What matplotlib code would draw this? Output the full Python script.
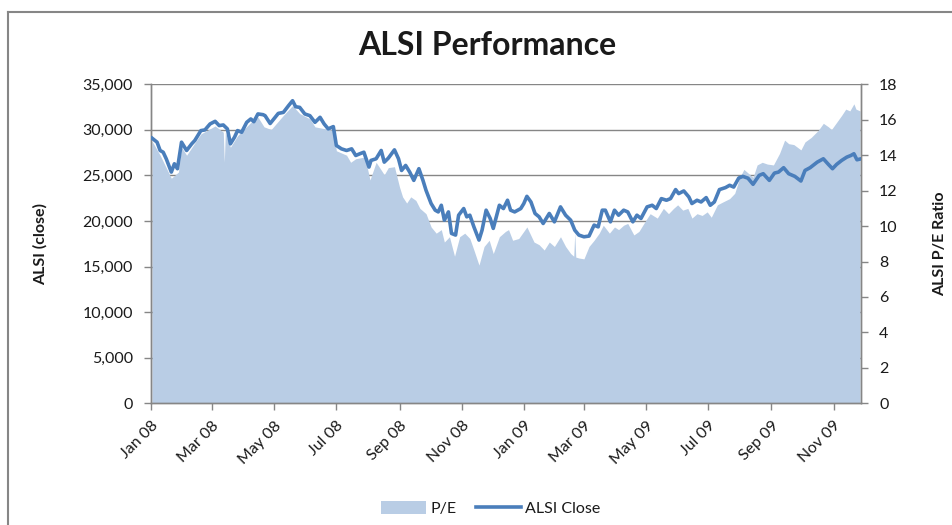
import matplotlib
matplotlib.use("Agg")
import matplotlib.pyplot as plt
import matplotlib.dates as mdates
from matplotlib.patches import Patch
from matplotlib.lines import Line2D
import pandas as pd

plt.rcParams['font.family'] = ['Lato', 'DejaVu Sans']

# ---------------- data ----------------
alsi_dates = [
    "2008-01-02", "2008-01-07", "2008-01-10", "2008-01-13", "2008-01-16", "2008-01-21", "2008-01-24", "2008-01-27",
    "2008-01-31", "2008-02-05", "2008-02-10", "2008-02-13", "2008-02-19", "2008-02-23", "2008-02-28", "2008-03-04",
    "2008-03-08", "2008-03-12", "2008-03-16", "2008-03-19", "2008-03-23", "2008-03-26", "2008-03-30", "2008-04-04",
    "2008-04-08", "2008-04-11", "2008-04-15", "2008-04-20", "2008-04-22", "2008-04-27", "2008-05-05", "2008-05-10",
    "2008-05-15", "2008-05-19", "2008-05-22", "2008-05-26", "2008-05-31", "2008-06-05", "2008-06-10", "2008-06-15",
    "2008-06-19", "2008-06-23", "2008-06-28", "2008-07-01", "2008-07-06", "2008-07-11", "2008-07-16", "2008-07-20",
    "2008-07-24", "2008-07-28", "2008-08-02", "2008-08-04", "2008-08-09", "2008-08-14", "2008-08-17", "2008-08-21",
    "2008-08-27", "2008-08-31", "2008-09-03", "2008-09-07", "2008-09-11", "2008-09-15", "2008-09-20", "2008-09-24",
    "2008-09-27", "2008-10-02", "2008-10-06", "2008-10-09", "2008-10-12", "2008-10-15", "2008-10-19", "2008-10-22",
    "2008-10-26", "2008-10-29", "2008-11-03", "2008-11-06", "2008-11-09", "2008-11-13", "2008-11-18", "2008-11-21",
    "2008-11-25", "2008-11-29", "2008-12-02", "2008-12-08", "2008-12-12", "2008-12-16", "2008-12-19", "2008-12-23",
    "2008-12-29", "2009-01-01", "2009-01-04", "2009-01-08", "2009-01-12", "2009-01-16", "2009-01-20", "2009-01-26",
    "2009-01-31", "2009-02-06", "2009-02-11", "2009-02-16", "2009-02-20", "2009-02-24", "2009-03-01", "2009-03-06",
    "2009-03-11", "2009-03-15", "2009-03-19", "2009-03-22", "2009-03-27", "2009-03-31", "2009-04-04", "2009-04-09",
    "2009-04-13", "2009-04-18", "2009-04-22", "2009-04-26", "2009-05-02", "2009-05-07", "2009-05-11", "2009-05-16",
    "2009-05-21", "2009-05-25", "2009-05-30", "2009-06-02", "2009-06-07", "2009-06-12", "2009-06-15", "2009-06-20",
    "2009-06-24", "2009-06-29", "2009-07-03", "2009-07-07", "2009-07-12", "2009-07-18", "2009-07-22", "2009-07-26",
    "2009-07-31", "2009-08-04", "2009-08-09", "2009-08-14", "2009-08-20", "2009-08-24", "2009-08-30", "2009-09-04",
    "2009-09-08", "2009-09-13", "2009-09-18", "2009-09-24", "2009-09-30", "2009-10-04", "2009-10-09", "2009-10-16",
    "2009-10-22", "2009-10-27", "2009-10-31", "2009-11-04", "2009-11-09", "2009-11-14", "2009-11-18", "2009-11-21",
    "2009-11-24", "2009-11-27",
]
alsi_close = [
    29100, 28650, 27740, 27550, 26830, 25370, 26280, 25740,
    28650, 27740, 28470, 28830, 29920, 30000, 30650, 30940,
    30470, 30540, 30110, 28470, 29190, 29920, 29740, 30830,
    31200, 30900, 31750, 31670, 31560, 30700, 31810, 31920,
    32650, 33200, 32540, 32470, 31750, 31560, 30830, 31380,
    30650, 30110, 30360, 28290, 27920, 27740, 27920, 27190,
    27380, 27550, 25920, 26650, 26830, 27740, 26460, 26900,
    27810, 26830, 25550, 26100, 25370, 24460, 25740, 24460,
    23370, 21920, 21190, 21000, 21730, 20090, 21000, 18640,
    18460, 20640, 21370, 20460, 20640, 19360, 17910, 19000,
    21190, 20280, 19190, 21730, 21370, 22280, 21190, 21000,
    21370, 21920, 22710, 22090, 20830, 20460, 19730, 20830,
    19910, 21550, 20640, 20090, 19000, 18460, 18270, 18350,
    19550, 19360, 21190, 21190, 19910, 21190, 20640, 21190,
    21000, 19910, 20640, 20280, 21550, 21730, 21370, 22460,
    22280, 22460, 23450, 23010, 23300, 22640, 21920, 22280,
    22090, 22570, 21730, 22090, 23450, 23670, 23920, 23730,
    24720, 24900, 24700, 24030, 25010, 25190, 24460, 25260,
    25370, 25850, 25190, 24900, 24390, 25550, 25850, 26460,
    26830, 26210, 25740, 26210, 26650, 27010, 27190, 27380,
    26720, 26800,
]

pe_dates = [
    "2008-01-02", "2008-01-10", "2008-01-21", "2008-01-28", "2008-01-31", "2008-02-05", "2008-02-19", "2008-03-04",
    "2008-03-12", "2008-03-13", "2008-03-14", "2008-03-19", "2008-03-26", "2008-04-08", "2008-04-15", "2008-04-21",
    "2008-04-28", "2008-05-10", "2008-05-19", "2008-05-26", "2008-06-05", "2008-06-10", "2008-06-19", "2008-06-28",
    "2008-07-01", "2008-07-11", "2008-07-15", "2008-07-20", "2008-07-29", "2008-08-03", "2008-08-09", "2008-08-17",
    "2008-08-21", "2008-08-27", "2008-09-01", "2008-09-04", "2008-09-08", "2008-09-12", "2008-09-17", "2008-09-21",
    "2008-09-27", "2008-10-02", "2008-10-07", "2008-10-12", "2008-10-15", "2008-10-20", "2008-10-25", "2008-10-30",
    "2008-11-04", "2008-11-09", "2008-11-13", "2008-11-18", "2008-11-23", "2008-11-28", "2008-12-02", "2008-12-08",
    "2008-12-14", "2008-12-17", "2008-12-21", "2008-12-27", "2009-01-04", "2009-01-11", "2009-01-16", "2009-01-21",
    "2009-01-26", "2009-01-31", "2009-02-06", "2009-02-11", "2009-02-16", "2009-02-19", "2009-02-20", "2009-02-21",
    "2009-02-24", "2009-03-01", "2009-03-06", "2009-03-11", "2009-03-16", "2009-03-20", "2009-03-26", "2009-03-31",
    "2009-04-04", "2009-04-09", "2009-04-13", "2009-04-19", "2009-04-24", "2009-05-01", "2009-05-05", "2009-05-12",
    "2009-05-18", "2009-05-23", "2009-05-28", "2009-06-01", "2009-06-06", "2009-06-11", "2009-06-15", "2009-06-20",
    "2009-06-25", "2009-06-30", "2009-07-04", "2009-07-10", "2009-07-15", "2009-07-22", "2009-07-27", "2009-08-01",
    "2009-08-05", "2009-08-09", "2009-08-14", "2009-08-18", "2009-08-23", "2009-08-28", "2009-09-03", "2009-09-09",
    "2009-09-14", "2009-09-18", "2009-09-23", "2009-09-30", "2009-10-04", "2009-10-10", "2009-10-17", "2009-10-22",
    "2009-10-27", "2009-10-30", "2009-11-04", "2009-11-09", "2009-11-13", "2009-11-17", "2009-11-21", "2009-11-23",
    "2009-11-27",
]
pe_ratio = [
    14.8, 14.0, 12.7, 13.05, 14.45, 14.0, 15.2, 15.65,
    15.3, 13.6, 15.3, 14.45, 15.1, 15.85, 16.15, 15.6,
    15.45, 16.25, 16.8, 16.35, 16.05, 15.6, 15.5, 15.4,
    14.25, 14.0, 13.6, 13.8, 13.9, 12.6, 13.6, 12.9,
    13.3, 13.35, 12.2, 11.65, 11.3, 11.65, 11.45, 11.0,
    10.7, 9.95, 9.6, 9.8, 9.1, 9.4, 8.3, 9.4,
    9.6, 9.3, 8.65, 7.8, 8.85, 9.2, 8.45, 9.4,
    9.7, 9.8, 9.2, 9.3, 9.95, 9.1, 8.95, 8.65,
    9.1, 8.85, 9.4, 8.85, 8.45, 8.3, 9.6, 8.25,
    8.2, 8.15, 8.85, 9.2, 9.6, 10.05, 9.6, 9.95,
    9.8, 10.05, 10.15, 9.5, 9.7, 10.35, 10.7, 10.45,
    11.0, 10.7, 11.0, 11.2, 10.9, 11.0, 10.45, 10.7,
    10.6, 10.8, 10.5, 11.2, 11.35, 11.55, 11.85, 12.75,
    13.2, 13.0, 12.75, 13.45, 13.6, 13.5, 13.45, 14.1,
    14.85, 14.65, 14.6, 14.3, 14.75, 15.0, 15.4, 15.8,
    15.6, 15.45, 15.85, 16.25, 16.6, 16.5, 16.9, 16.6,
    16.5,
]

left_ticks = [0, 5000, 10000, 15000, 20000, 25000, 30000, 35000]
right_ticks = [0, 2, 4, 6, 8, 10, 12, 14, 16, 18]
x_start, x_end = "2008-01-01", "2009-11-28"

title = "ALSI Performance"
left_label = "ALSI (close)"
right_label = "ALSI P/E Ratio"
pe_name = "P/E"
alsi_name = "ALSI Close"

# ---------------- style ----------------
AREA = "#B9CDE5"
LINE = "#4A7EBB"
GRID = "#868686"
TXT = "#1a1a1a"

fig = plt.figure(figsize=(9.53, 5.25), dpi=100)
ax_pe = fig.add_axes([0.1584, 0.2318, 0.7451, 0.6076])
ax = ax_pe.twinx()

pe_x = pd.to_datetime(pe_dates)
alsi_x = pd.to_datetime(alsi_dates)

ymax_left = left_ticks[-1]
ymax_right = right_ticks[-1]

# gridlines (behind the area), derived from the left-axis ticks
for v in left_ticks[1:]:
    ax_pe.axhline(v * ymax_right / ymax_left, color=GRID, lw=1.0, zorder=0)

ax_pe.fill_between(pe_x, 0, pe_ratio, color=AREA, lw=0, zorder=1)
ax.plot(alsi_x, alsi_close, color=LINE, lw=2.6, solid_joinstyle="round", zorder=3)

xlo, xhi = pd.Timestamp(x_start), pd.Timestamp(x_end)
ax_pe.set_xlim(xlo, xhi)
ax_pe.set_ylim(0, ymax_right)
ax.set_ylim(0, ymax_left)

# axes: P/E on the right, ALSI on the left
ax_pe.yaxis.tick_right()
ax_pe.yaxis.set_label_position("right")
ax.yaxis.tick_left()
ax.yaxis.set_label_position("left")

ax.set_yticks(left_ticks)
ax.set_yticklabels([f"{v:,}" for v in left_ticks])
ax_pe.set_yticks(right_ticks)
ax_pe.set_yticklabels([str(v) for v in right_ticks])

ax_pe.xaxis.set_major_locator(mdates.MonthLocator(bymonth=[1, 3, 5, 7, 9, 11]))
ax_pe.xaxis.set_major_formatter(mdates.DateFormatter("%b %y"))
for lab in ax_pe.get_xticklabels():
    lab.set_rotation(45)
    lab.set_ha("right")
    lab.set_rotation_mode("anchor")

for a in (ax, ax_pe):
    for s in a.spines.values():
        s.set_color(GRID)
        s.set_linewidth(1.0)
    a.spines["top"].set_visible(False)
    a.tick_params(colors=GRID, labelcolor=TXT, labelsize=11.5, length=5, width=1.0, direction="out")

ax_pe.tick_params(axis="x", pad=6)
ax_pe.tick_params(axis="y", pad=8)
ax.tick_params(axis="y", pad=8)

ax.set_ylabel(left_label, fontsize=11.5, fontweight="bold", color=TXT)
ax.yaxis.set_label_coords(-0.146, 0.5)
ax_pe.set_ylabel(right_label, fontsize=11.5, fontweight="bold", color=TXT, rotation=90)
ax_pe.yaxis.set_label_coords(1.101, 0.5)

fig.text(0.511, 0.914, title, ha="center", va="center", fontsize=23, fontweight="bold", color=TXT)

handles = [Patch(facecolor=AREA, edgecolor="none", label=pe_name),
           Line2D([0], [0], color=LINE, lw=2.6, label=alsi_name)]
fig.legend(handles=handles, loc="center", bbox_to_anchor=(0.515, 0.032), ncol=2, frameon=False,
           fontsize=11.5, handlelength=2.8, handleheight=0.9, columnspacing=1.2, handletextpad=0.3,
           labelcolor=TXT)

# outer chart frame (left and top edges visible)
fig.add_artist(Line2D([0.0084, 0.0084], [0.0, 0.977], transform=fig.transFigure, color=GRID, lw=1.5))
fig.add_artist(Line2D([0.0084, 1.0], [0.977, 0.977], transform=fig.transFigure, color=GRID, lw=1.5))

fig.savefig("out.png", dpi=100, facecolor="white")
